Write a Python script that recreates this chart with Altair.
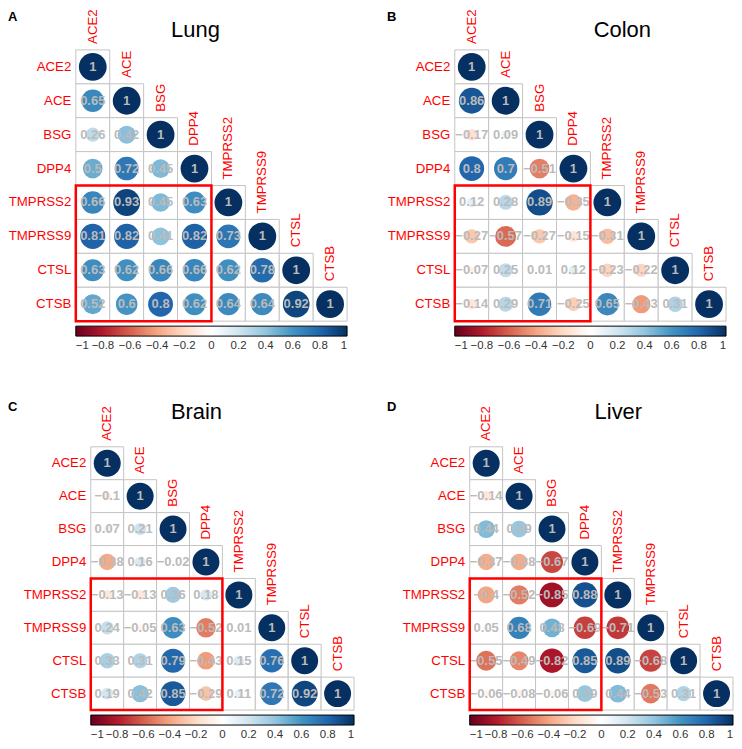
import math
import altair as alt
import pandas as pd

FONT = "Liberation Sans"

genes = ["ACE2", "ACE", "BSG", "DPP4", "TMPRSS2", "TMPRSS9", "CTSL", "CTSB"]

# lower-triangle correlation values, row by row
lung = [
    [1],
    [0.65, 1],
    [0.26, 0.42, 1],
    [0.5, 0.72, 0.45, 1],
    [0.66, 0.93, 0.45, 0.63, 1],
    [0.81, 0.82, 0.41, 0.82, 0.73, 1],
    [0.63, 0.62, 0.66, 0.66, 0.62, 0.78, 1],
    [0.52, 0.6, 0.8, 0.62, 0.64, 0.64, 0.92, 1],
]
colon = [
    [1],
    [0.86, 1],
    [-0.17, 0.09, 1],
    [0.8, 0.7, -0.51, 1],
    [0.12, 0.28, 0.89, -0.35, 1],
    [-0.27, -0.57, -0.27, -0.15, -0.31, 1],
    [-0.07, 0.25, 0.01, 0.12, -0.23, -0.22, 1],
    [-0.14, 0.29, 0.71, -0.25, 0.65, -0.43, 0.31, 1],
]
brain = [
    [1],
    [-0.1, 1],
    [0.07, 0.21, 1],
    [-0.38, 0.16, -0.02, 1],
    [-0.13, -0.13, 0.36, 0.18, 1],
    [0.24, -0.05, 0.63, -0.52, 0.01, 1],
    [0.33, 0.31, 0.79, -0.43, 0.15, 0.76, 1],
    [0.19, 0.42, 0.85, -0.29, 0.11, 0.72, 0.92, 1],
]
liver = [
    [1],
    [-0.14, 1],
    [0.44, 0.39, 1],
    [-0.37, -0.38, -0.67, 1],
    [-0.4, -0.52, -0.85, 0.88, 1],
    [0.05, 0.68, 0.48, -0.69, -0.71, 1],
    [-0.55, -0.49, -0.82, 0.85, 0.89, -0.68, 1],
    [-0.06, -0.08, -0.06, 0.39, 0.44, -0.53, 0.31, 1],
]

# highlighted block: columns ACE2..DPP4, rows TMPRSS2..CTSB
box_cols = ["ACE2", "DPP4"]
box_rows = ["TMPRSS2", "CTSB"]

color_stops = [-1, -0.8, -0.6, -0.4, -0.2, 0, 0.2, 0.4, 0.6, 0.8, 1]
rdbu = ["#67001F", "#B2182B", "#D6604D", "#F4A582", "#FDDBC7", "#FFFFFF",
        "#D1E5F0", "#92C5DE", "#4393C3", "#2166AC", "#053061"]


def fmt(v):
    s = f"{abs(v):g}"
    return "\u2212" + s if v < 0 else s


def panel(title, letter, rows, cell, tx, ty, lx, ly, pad=0):
    size = cell * 8
    recs = []
    for i, row in enumerate(rows):
        for j, v in enumerate(row):
            recs.append({"row": genes[i], "col": genes[j], "r": v,
                         "absr": abs(v), "label": fmt(v)})
    df = pd.DataFrame(recs)

    xs = alt.Scale(type="band", domain=genes, paddingInner=0,
                   paddingOuter=pad / (2 * cell), align=1)
    ys = alt.Scale(type="band", domain=genes, paddingInner=0, paddingOuter=0)
    yaxis = alt.Axis(title=None, ticks=False, domain=False, grid=False,
                     labelColor="#FF0000", labelFont=FONT, labelFontSize=13.3,
                     labelPadding=5, labelLimit=200, offset=-pad)
    X = alt.X("col:N", scale=xs, axis=None)
    Y = alt.Y("row:N", scale=ys, axis=yaxis)

    base = alt.Chart(df)
    cells = base.mark_rect(fill="white", stroke="#c4c4c4", strokeWidth=1).encode(x=X, y=Y)

    dmax = 0.925 * cell
    smax = math.pi / 4 * dmax ** 2
    circles = base.mark_circle(opacity=1, strokeWidth=0).encode(
        x=X, y=Y,
        size=alt.Size("absr:Q", scale=alt.Scale(domain=[0, 1], range=[0, smax], zero=True), legend=None),
        color=alt.Color("r:Q",
                        scale=alt.Scale(domain=color_stops, range=rdbu, interpolate="rgb"),
                        legend=alt.Legend(title=None, orient="none", legendX=pad, legendY=size + 5,
                                          direction="horizontal", gradientLength=size,
                                          gradientThickness=10, gradientStrokeColor="black",
                                          gradientStrokeWidth=1, values=color_stops, format="~g",
                                          labelFont=FONT, labelFontSize=11.5, labelColor="#333333",
                                          labelAlign="center", labelOffset=4, labelOverlap=False,
                                          padding=0)),
    )
    nums = base.mark_text(font=FONT, fontSize=13, fontWeight="bold", color="#bbbbbb").encode(
        x=X, y=Y, text="label:N")

    diag = pd.DataFrame({"g": genes})
    collab = alt.Chart(diag).mark_text(angle=270, align="left", baseline="middle",
                                       dx=cell / 2 + 6, color="#FF0000", font=FONT,
                                       fontSize=13.3).encode(
        x=alt.X("g:N", scale=xs, axis=None),
        y=alt.Y("g:N", scale=ys, axis=yaxis),
        text="g:N")

    boxdf = pd.DataFrame({"x0": [box_cols[0]], "x1": [box_cols[1]],
                          "y0": [box_rows[0]], "y1": [box_rows[1]]})
    box = alt.Chart(boxdf).mark_rect(fillOpacity=0, stroke="#FF0000", strokeWidth=2.5).encode(
        x=alt.X("x0:N", scale=xs, axis=None, bandPosition=0),
        x2=alt.X2("x1", bandPosition=1),
        y=alt.Y("y0:N", scale=ys, axis=yaxis, bandPosition=0),
        y2=alt.Y2("y1", bandPosition=1),
    )

    ttl = alt.Chart(pd.DataFrame({"t": [title]})).mark_text(
        font=FONT, fontSize=22, color="black", align="center", baseline="alphabetic").encode(
        text="t:N", x=alt.value(tx + pad), y=alt.value(ty))
    let = alt.Chart(pd.DataFrame({"t": [letter]})).mark_text(
        font=FONT, fontSize=13, fontWeight="bold", color="black", align="left",
        baseline="middle").encode(text="t:N", x=alt.value(lx), y=alt.value(ly))

    return alt.layer(cells, circles, nums, collab, box, ttl, let).properties(
        width=size + pad, height=size)


A = panel("Lung", "A", lung, 34, 120, -13, -68, -33)
B = panel("Colon", "B", colon, 34, 168, -13, -68, -33)
C = panel("Brain", "C", brain, 33, 106, -28, -68, -40, pad=15)
D = panel("Liver", "D", liver, 33, 149, -28, -68, -40, pad=15)

chart = alt.concat(A, B, C, D, columns=2).properties(
    align="none", spacing={"row": 49, "column": 32}, padding=0
).resolve_scale(color="independent", size="independent").resolve_legend(
    color="independent").configure_view(strokeWidth=0)

chart.save("out.html", embed_options={"renderer": "svg", "actions": False})
